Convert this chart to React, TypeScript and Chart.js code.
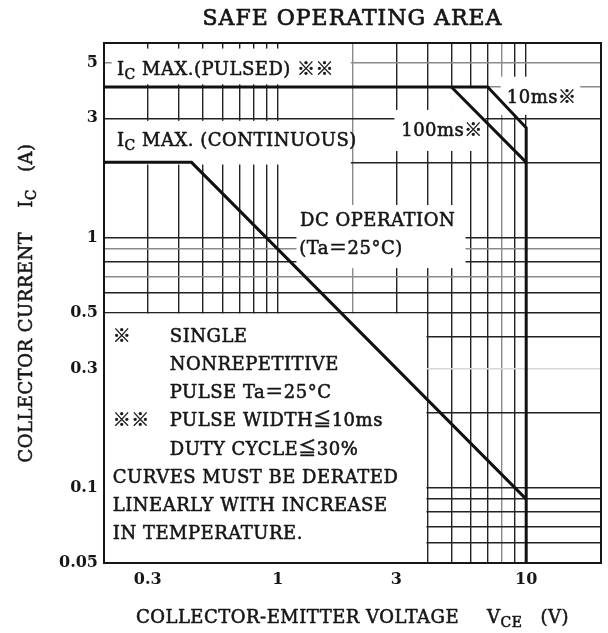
import { useEffect, useRef } from 'react';
import { Chart, registerables } from 'chart.js';

Chart.register(...registerables);

// ---------- data ----------
const xGridValues = [0.2, 0.3, 0.4, 0.5, 0.6, 0.7, 0.8, 0.9, 1, 2, 3, 4, 5, 6, 7, 8, 9, 10, 20];
const yGridValues = [0.05, 0.06, 0.07, 0.08, 0.09, 0.1, 0.2, 0.3, 0.4, 0.5, 0.6, 0.7, 0.8, 0.9, 1, 2, 3, 4, 5, 6];
const xTickLabels = [0.3, 1, 3, 10];
const yTickLabels = [0.05, 0.1, 0.3, 0.5, 1, 3, 5];

// DC operation (Ic max continuous + power limit)
const dcV = [0.2, 0.45, 10];
const dcI = [2, 2, 0.09];
// 100 ms pulse
const p100V = [5, 10];
const p100I = [4, 2];
// 10 ms pulse (Ic max pulsed + 10 ms limit + Vce max)
const p10V = [0.2, 7, 10, 10];
const p10I = [4, 4, 2.75, 0.05];

// ---------- styling / layout ----------
const W = 608;
const H = 633;
const SERIF = '"DejaVu Serif", "Liberation Serif", "Noto Sans CJK JP", serif';
const INK = '#161616';
const grayX = [2, 8];
const grayY = [5, 4, 0.9, 0.7];
const lightY = [0.3];

// white areas behind the labels (data coordinates)
const masks = [
  { x0: 0.215, x1: 1.97, y0: 4.1, y1: 5.7 },
  { x0: 0.205, x1: 1.97, y0: 1.96, y1: 2.93 },
  { x0: 1.19, x1: 5.7, y0: 0.755, y1: 1.35 },
  { x0: 2.95, x1: 6.85, y0: 2.22, y1: 3.24 },
  { x0: 4.5, x1: 6.85, y0: 3.24, y1: 3.97 },
  { x0: 7.9, x1: 16.5, y0: 3.1, y1: 4.4 },
  { x0: 0.2, x1: 3.97, y0: 0.05, y1: 0.497 },
];

type Part = { t: string; sub?: boolean; gap?: number };

function partFont(size: number, sub?: boolean) {
  return `${sub ? Math.round(size * 0.78) : size}px ${SERIF}`;
}

function measureParts(ctx: CanvasRenderingContext2D, parts: Part[], size: number) {
  let w = 0;
  for (const p of parts) {
    if (p.gap) { w += p.gap; continue; }
    ctx.font = partFont(size, p.sub);
    w += ctx.measureText(p.t).width;
  }
  return w;
}

function drawParts(
  ctx: CanvasRenderingContext2D, parts: Part[], x: number, y: number, size: number,
  align: 'left' | 'center' = 'left', spacing = 0.5, weight = 0.55,
) {
  ctx.save();
  (ctx as any).letterSpacing = `${spacing}px`;
  ctx.textBaseline = 'middle';
  ctx.textAlign = 'left';
  ctx.fillStyle = INK;
  ctx.strokeStyle = INK;
  ctx.lineWidth = weight;
  ctx.lineJoin = 'round';
  let cx = align === 'center' ? x - measureParts(ctx, parts, size) / 2 : x;
  for (const p of parts) {
    if (p.gap) { cx += p.gap; continue; }
    ctx.font = partFont(size, p.sub);
    const yy = p.sub ? y + size * 0.3 : y;
    ctx.fillText(p.t, cx, yy);
    if (weight > 0) ctx.strokeText(p.t, cx, yy);
    cx += ctx.measureText(p.t).width;
  }
  ctx.restore();
}

const labels: { x: number; y: number; parts: Part[] }[] = [
  { x: 0.2256, y: 4.68, parts: [{ t: 'I' }, { t: 'C', sub: true }, { t: ' MAX.(PULSED) ※※' }] },
  { x: 0.2256, y: 2.43, parts: [{ t: 'I' }, { t: 'C', sub: true }, { t: ' MAX. (CONTINUOUS)' }] },
  { x: 3.14, y: 2.67, parts: [{ t: '100ms※' }] },
  { x: 8.35, y: 3.6, parts: [{ t: '10ms※' }] },
  { x: 1.23, y: 1.16, parts: [{ t: 'DC OPERATION' }] },
  { x: 1.22, y: 0.894, parts: [{ t: '(Ta＝25°C)' }] },
];

const noteLines: { mark: string; text: string; indent: boolean }[] = [
  { mark: '※', text: 'SINGLE', indent: true },
  { mark: '', text: 'NONREPETITIVE', indent: true },
  { mark: '', text: 'PULSE Ta＝25°C', indent: true },
  { mark: '※※', text: 'PULSE WIDTH≦10ms', indent: true },
  { mark: '', text: 'DUTY CYCLE≦30%', indent: true },
  { mark: '', text: 'CURVES MUST BE DERATED', indent: false },
  { mark: '', text: 'LINEARLY WITH INCREASE', indent: false },
  { mark: '', text: 'IN TEMPERATURE.', indent: false },
];
const noteAnchor = { x: 0.217, xIndent: 0.368, y: 0.40 };
const noteLineHeight = 28.2;

const annotPlugin = {
  id: 'soaAnnot',
  beforeDatasetsDraw(chart: any) {
    const { ctx, chartArea: a, scales } = chart;
    const xs = scales.x;
    const ys = scales.y;
    ctx.save();
    ctx.beginPath();
    ctx.rect(a.left, a.top, a.right - a.left, a.bottom - a.top);
    ctx.clip();
    ctx.fillStyle = '#ffffff';
    for (const m of masks) {
      const x1 = xs.getPixelForValue(m.x0);
      const x2 = xs.getPixelForValue(m.x1);
      const y1 = ys.getPixelForValue(m.y1);
      const y2 = ys.getPixelForValue(m.y0);
      ctx.fillRect(x1, y1, x2 - x1, y2 - y1);
    }
    ctx.restore();

    ctx.save();
    ctx.strokeStyle = INK;
    ctx.lineWidth = 2;
    ctx.strokeRect(a.left, a.top, a.right - a.left, a.bottom - a.top);
    ctx.restore();

    for (const l of labels) {
      drawParts(ctx, l.parts, xs.getPixelForValue(l.x), ys.getPixelForValue(l.y), 18);
    }
    const nx = xs.getPixelForValue(noteAnchor.x);
    const nxi = xs.getPixelForValue(noteAnchor.xIndent);
    const ny = ys.getPixelForValue(noteAnchor.y);
    noteLines.forEach((ln, i) => {
      const yy = ny + i * noteLineHeight;
      if (ln.mark) drawParts(ctx, [{ t: ln.mark }], nx, yy, 18);
      drawParts(ctx, [{ t: ln.text }], ln.indent ? nxi : nx, yy, 18);
    });
  },
  afterDraw(chart: any) {
    const { ctx, chartArea: a } = chart;
    const cx = (a.left + a.right) / 2;
    const cy = (a.top + a.bottom) / 2;
    drawParts(ctx, [{ t: 'SAFE OPERATING AREA' }], cx, 19, 22, 'center', 1, 0.7);
    drawParts(ctx, [
      { t: 'COLLECTOR-EMITTER VOLTAGE' }, { gap: 28 }, { t: 'V' }, { t: 'CE', sub: true }, { gap: 18 }, { t: '(V)' },
    ], cx, 618, 18, 'center', 0.5);
    ctx.save();
    ctx.translate(27, cy);
    ctx.rotate(-Math.PI / 2);
    drawParts(ctx, [
      { t: 'COLLECTOR CURRENT' }, { gap: 24 }, { t: 'I' }, { t: 'C', sub: true }, { gap: 17 }, { t: '(A)' },
    ], 0, 0, 18, 'center', 0.5);
    ctx.restore();
  },
};

function series(v: number[], i: number[]) {
  return {
    data: v.map((x, k) => ({ x, y: i[k] })),
    borderColor: '#111111',
    borderWidth: 3,
    pointRadius: 0,
    fill: false,
    tension: 0,
    borderJoinStyle: 'miter' as const,
  };
}

export default function App() {
  const ref = useRef<HTMLCanvasElement>(null);
  useEffect(() => {
    const canvas = ref.current;
    if (!canvas) return;
    const tickFont = { family: SERIF, size: 16, weight: 'bold' as const };
    const chart = new Chart(canvas, {
      type: 'line',
      data: {
        datasets: [series(dcV, dcI), series(p100V, p100I), series(p10V, p10I)] as any,
      },
      options: {
        animation: false,
        responsive: false,
        maintainAspectRatio: false,
        layout: { padding: { top: 43, right: 6, left: 0, bottom: 0 } },
        plugins: {
          legend: { display: false },
          tooltip: { enabled: false },
          title: { display: false },
        },
        scales: {
          x: {
            type: 'logarithmic',
            min: 0.2,
            max: 20,
            afterBuildTicks: (s: any) => { s.ticks = xGridValues.map((value) => ({ value })); },
            afterFit: (s: any) => { s.height = 70; },
            ticks: {
              autoSkip: false,
              maxRotation: 0,
              padding: 7,
              color: INK,
              font: tickFont,
              callback: (v: any) => (xTickLabels.includes(Number(v)) ? String(v) : ''),
            },
            grid: {
              drawTicks: false,
              color: (c: any) => (c.tick && grayX.includes(c.tick.value) ? '#8a8a8a' : '#222222'),
              lineWidth: (c: any) => (c.tick && (c.tick.value === 0.2 || c.tick.value === 20) ? 2 : 1.4),
            },
            border: { display: true, color: INK, width: 2 },
          },
          y: {
            type: 'logarithmic',
            min: 0.05,
            max: 6,
            afterBuildTicks: (s: any) => { s.ticks = yGridValues.map((value) => ({ value })); },
            afterFit: (s: any) => { s.width = 104; },
            ticks: {
              autoSkip: false,
              padding: 6,
              color: INK,
              font: tickFont,
              callback: (v: any) => (yTickLabels.includes(Number(v)) ? String(v) : ''),
            },
            grid: {
              drawTicks: false,
              color: (c: any) => {
                if (!c.tick) return '#222222';
                if (lightY.includes(c.tick.value)) return '#d8d8d8';
                if (grayY.includes(c.tick.value)) return '#8a8a8a';
                return '#222222';
              },
              lineWidth: (c: any) => (c.tick && (c.tick.value === 0.05 || c.tick.value === 6) ? 2 : 1.4),
            },
            border: { display: true, color: INK, width: 2 },
          },
        },
      } as any,
      plugins: [annotPlugin],
    });
    return () => chart.destroy();
  }, []);
  return (
    <div style={{ position: 'absolute', left: 0, top: 0, width: W, height: H, background: '#ffffff' }}>
      <canvas ref={ref} width={W} height={H} style={{ display: 'block', width: W, height: H }} />
    </div>
  );
}
